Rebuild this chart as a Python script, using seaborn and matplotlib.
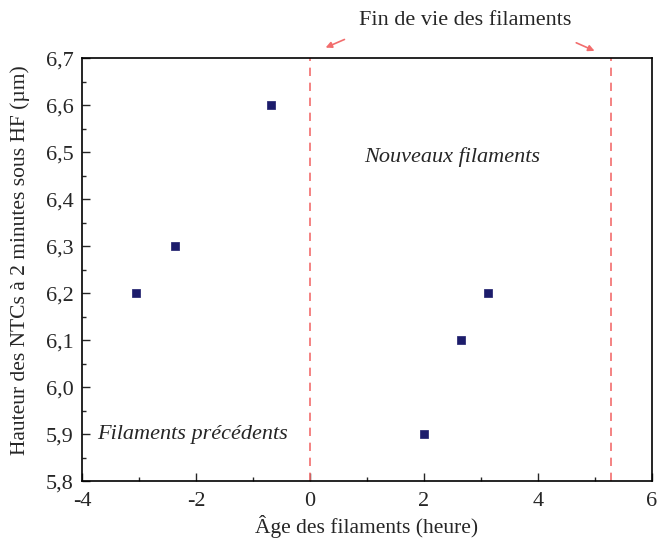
import numpy as np
import matplotlib
matplotlib.use("Agg")
import matplotlib.pyplot as plt
import seaborn as sns
from matplotlib.ticker import FuncFormatter, MultipleLocator

# data
age_old = [-3.05, -2.37, -0.69]
height_old = [6.2, 6.3, 6.6]
age_new = [2.0, 2.65, 3.13]
height_new = [5.9, 6.1, 6.2]
end_of_life = [0.0, 5.28]

sns.set_style("ticks")
plt.rcParams["font.family"] = ["Liberation Serif", "DejaVu Serif"]

fig = plt.figure(figsize=(6.57, 5.43), dpi=100)
ax = fig.add_axes([0.125, 0.114, 0.867, 0.779])

navy = "#1c1c6b"
sns.scatterplot(x=age_old + age_new, y=height_old + height_new, ax=ax,
                marker="s", s=28, color=navy, edgecolor=navy, linewidth=0.5,
                zorder=3)

for xv in end_of_life:
    ax.axvline(xv, color="#f26d6d", linestyle=(0, (5, 4)), linewidth=1.2, zorder=2)

ax.set_xlim(-4, 6)
ax.set_ylim(5.8, 6.7)
ax.xaxis.set_major_locator(MultipleLocator(2))
ax.xaxis.set_minor_locator(MultipleLocator(1))
ax.yaxis.set_major_locator(MultipleLocator(0.1))
ax.yaxis.set_minor_locator(MultipleLocator(0.05))
ax.yaxis.set_major_formatter(FuncFormatter(lambda v, p: f"{v:.1f}".replace(".", ",")))
ax.xaxis.set_major_formatter(FuncFormatter(lambda v, p: f"{v:g}"))
ax.tick_params(which="both", direction="in", top=False, right=False, labelsize=16)
ax.tick_params(which="major", length=6, width=1)
ax.tick_params(which="minor", length=3, width=1)
ax.tick_params(axis="y", which="major", pad=6)
ax.tick_params(axis="x", which="major", pad=8)
for s in ax.spines.values():
    s.set_linewidth(1.2)
    s.set_color("black")

ax.set_xlabel("Âge des filaments (heure)", fontsize=15.5, labelpad=3)
ax.set_ylabel("Hauteur des NTCs à 2 minutes sous HF (µm)", fontsize=15.5)
ax.yaxis.set_label_coords(-0.092, 0.523)

ax.text(2.49, 6.49, "Nouveaux filaments", style="italic", fontsize=16,
        ha="center", va="center")
ax.text(-2.07, 5.9, "Filaments précédents", style="italic", fontsize=16,
        ha="center", va="center")
ax.text(2.72, 6.78, "Fin de vie des filaments", fontsize=16,
        ha="center", va="center", clip_on=False)
arrow = dict(arrowstyle="-|>", color="#f26d6d", lw=1.2, mutation_scale=9)
ax.annotate("", xy=(0.23, 6.72), xytext=(0.65, 6.742), arrowprops=arrow,
            annotation_clip=False)
ax.annotate("", xy=(5.04, 6.713), xytext=(4.63, 6.735), arrowprops=arrow,
            annotation_clip=False)

fig.savefig("out.png", dpi=100)
